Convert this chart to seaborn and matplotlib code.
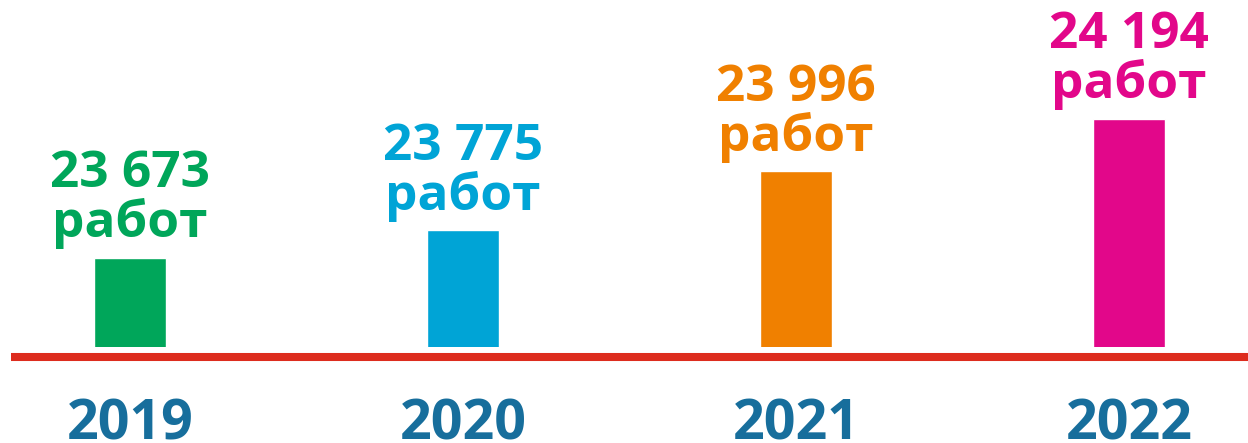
import matplotlib
matplotlib.use("Agg")
import matplotlib.pyplot as plt
import matplotlib.transforms as mtransforms
import seaborn as sns
import pandas as pd

# --- data ---
years = ["2019", "2020", "2021", "2022"]
works = [23673, 23775, 23996, 24194]
value_labels = ["23 673\nработ", "23 775\nработ", "23 996\nработ", "24 194\nработ"]
bar_colors = ["#00A65A", "#00A4D6", "#F08000", "#E2078A"]

sns.set_style("white")
plt.rcParams["font.family"] = ["Open Sans", "DejaVu Sans"]

df = pd.DataFrame({"year": years, "works": works})

fig = plt.figure(figsize=(12.48, 4.43), dpi=100)
ax = fig.add_axes([0, 96 / 443, 1, 347 / 443])

sns.barplot(data=df, x="year", y="works", hue="year", palette=bar_colors,
            width=0.216, saturation=1, legend=False, ax=ax)

ax.set_xlim(-0.39, 3.357)
ax.set_ylim(23338, 24639)
ax.axis("off")

# value labels above bars
for i, (v, lab, c) in enumerate(zip(works, value_labels, bar_colors)):
    ax.annotate(lab, xy=(i, v), xytext=(0, 6), textcoords="offset points",
                ha="center", va="bottom", fontsize=37, fontweight="bold",
                color=c, linespacing=0.98, annotation_clip=False)

# red baseline
ax.plot([0.0088, 1], [-0.030, -0.030], transform=ax.transAxes,
        color="#DD2C1E", lw=5.8, clip_on=False, solid_capstyle="butt")

# year labels under the line
trans = mtransforms.blended_transform_factory(ax.transData, ax.transAxes)
for i, y in enumerate(years):
    ax.text(i, -0.268, y, transform=trans, ha="center", va="baseline",
            fontsize=40, fontweight="bold", color="#176E9C", clip_on=False)

fig.savefig("out.png", dpi=100)
